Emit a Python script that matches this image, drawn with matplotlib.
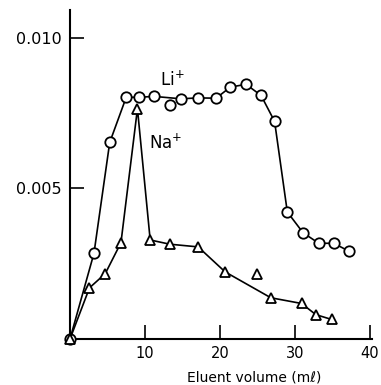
import matplotlib
matplotlib.use("Agg")
import matplotlib.pyplot as plt

# Li+ elution (circles); the point at 13.3 ml sits off the drawn curve
li_x = [0, 3.2, 5.3, 7.5, 9.2, 11.2, 14.8, 17.1, 19.5, 21.4, 23.5, 25.5, 27.3, 29.0, 31.1, 33.2, 35.2, 37.2]
li_y = [0, 0.00285, 0.00653, 0.00803, 0.00803, 0.00806, 0.00798, 0.00801, 0.0080, 0.00837,
        0.00846, 0.00809, 0.00723, 0.00422, 0.00353, 0.00318, 0.00318, 0.00292]
li_out_x = [13.3]
li_out_y = [0.00776]

# Na+ elution (triangles); the point at 25 ml sits off the drawn curve
na_x = [0, 2.6, 4.7, 6.8, 9.0, 10.7, 13.3, 17.1, 20.7, 26.8, 30.9, 32.8, 34.9]
na_y = [0, 0.0017, 0.00217, 0.0032, 0.00765, 0.00329, 0.00315, 0.00306, 0.00223,
        0.00137, 0.00118, 0.00081, 0.00065]
na_out_x = [25.0]
na_out_y = [0.00215]

x_ticks = [10, 20, 30, 40]
y_ticks = [0.005, 0.010]
y_tick_labels = ["0.005", "0.010"]

fig = plt.figure(figsize=(3.81, 3.85), dpi=100)
ax = fig.add_axes([70 / 381, 46 / 385, 302 / 381, 329 / 385])

ax.plot(li_x, li_y, color="black", lw=1.2, marker="o", ms=7.5, mfc="white",
        mec="black", mew=1.3, clip_on=False, zorder=3)
ax.plot(li_out_x, li_out_y, ls="none", marker="o", ms=7.5, mfc="white",
        mec="black", mew=1.3, clip_on=False, zorder=3)
ax.plot(na_x, na_y, color="black", lw=1.2, marker="^", ms=7, mfc="white",
        mec="black", mew=1.3, clip_on=False, zorder=4)
ax.plot(na_out_x, na_out_y, ls="none", marker="^", ms=7, mfc="white",
        mec="black", mew=1.3, clip_on=False, zorder=4)

ax.text(13.6, 0.0086, r"Li$^{+}$", fontsize=12, ha="center", va="center")
ax.text(12.8, 0.0065, r"Na$^{+}$", fontsize=12, ha="center", va="center")

ax.set_xlim(0, 40.3)
ax.set_ylim(0, 0.01093)
ax.spines["top"].set_visible(False)
ax.spines["right"].set_visible(False)
ax.spines["left"].set_linewidth(1.5)
ax.spines["bottom"].set_linewidth(1.5)

ax.set_xticks(x_ticks)
ax.set_xticklabels([str(t) for t in x_ticks], fontsize=10.5)
ax.set_yticks(y_ticks)
ax.set_yticklabels(y_tick_labels, fontsize=11.5)
ax.tick_params(axis="both", direction="in", length=10, width=1.2)
ax.tick_params(axis="x", pad=5)
ax.tick_params(axis="y", pad=6)

ax.text(0.609, -0.1185, "Eluent volume (mℓ)", transform=ax.transAxes,
        ha="center", va="center", fontsize=10)

fig.savefig("out.png", dpi=100)
